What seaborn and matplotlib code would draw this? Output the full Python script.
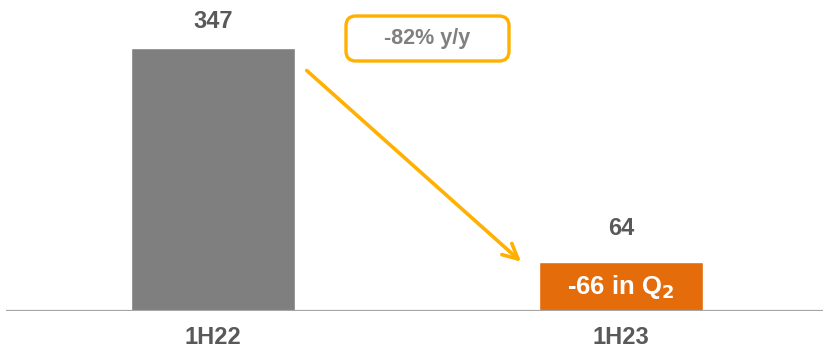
import matplotlib
matplotlib.use("Agg")
import matplotlib.pyplot as plt
import seaborn as sns
import pandas as pd
from matplotlib.patches import FancyBboxPatch

# Half-year figures
periods = ["1H22", "1H23"]
values = [347, 64]
bar_colors = ["#7F7F7F", "#E46C0A"]
change_label = "-82% y/y"
q2_note = r"-66 in Q$_\mathbf{2}$"

sns.set_theme(style="white")
plt.rcParams["font.family"] = ["Liberation Sans", "DejaVu Sans"]

W, H = 823, 348
fig = plt.figure(figsize=(W / 100, H / 100), dpi=100)
ax = fig.add_axes([6 / W, 37 / H, (W - 6) / W, (H - 37) / H])

df = pd.DataFrame({"period": periods, "value": values})
sns.barplot(data=df, x="period", y="value", hue="period", palette=bar_colors,
            width=0.4, saturation=1, legend=False, ax=ax)

ax.set_xlim(-0.507, 1.495)
ax.set_ylim(0, 410)
ax.set_xlabel("")
ax.set_ylabel("")
ax.set_yticks([])
for s in ax.spines.values():
    s.set_visible(False)
ax.axhline(0, color="#A6A6A6", lw=1.6, zorder=3)

ax.tick_params(axis="x", length=0, pad=11)
for t in ax.get_xticklabels():
    t.set_fontsize(17)
    t.set_fontweight("bold")
    t.set_color("#595959")

# value labels above bars
label_gaps = [11, 16]
for i, v in enumerate(values):
    ax.annotate(f"{v}", (i, v), xytext=(0, label_gaps[i]), textcoords="offset points",
                ha="center", va="bottom", fontsize=17, fontweight="bold",
                color="#595959")

# note inside the 1H23 bar
ax.text(1, values[1] / 2, q2_note, ha="center", va="center", fontsize=18.5,
        fontweight="bold", color="white", zorder=4)

# change arrow from the 1H22 bar down to the 1H23 bar
ax.annotate("", xy=(0.755, values[1] + 1), xytext=(0.23, values[0] - 30),
            arrowprops=dict(arrowstyle="->,head_length=0.9,head_width=0.45",
                            color="#FFB000", lw=2.6, shrinkA=0, shrinkB=0))

# rounded box with the y/y change
bx0, by0, bx1, by1 = 346, 16, 509, 61
box = FancyBboxPatch((bx0 / W, 1 - by1 / H), (bx1 - bx0) / W, (by1 - by0) / H,
                     boxstyle="round,pad=0,rounding_size=0.012",
                     transform=fig.transFigure, fc="white", ec="#FFB000",
                     lw=2.4, mutation_aspect=W / H)
fig.patches.append(box)
fig.text((bx0 + bx1) / 2 / W, 1 - (by0 + by1) / 2 / H, change_label,
         ha="center", va="center", fontsize=15.5, fontweight="bold",
         color="#808080")

fig.savefig("out.png", dpi=100)
